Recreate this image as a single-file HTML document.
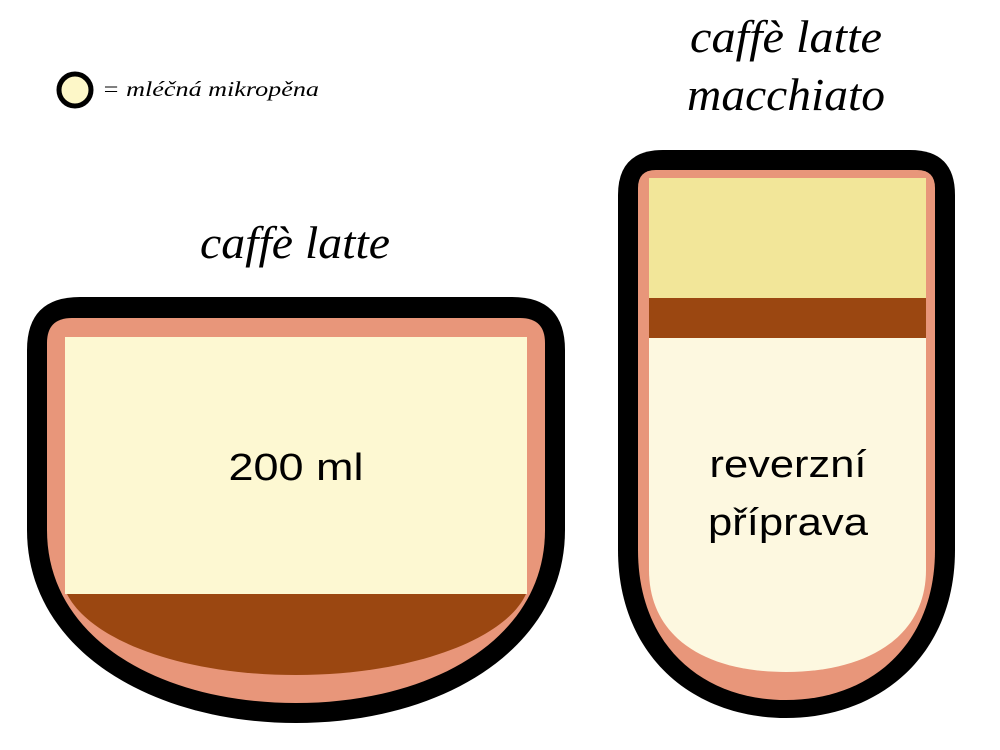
<!DOCTYPE html>
<html><head><meta charset="utf-8"><style>
html,body{margin:0;padding:0;background:#fff;width:1000px;height:750px;overflow:hidden}
svg{display:block}
</style></head><body>
<svg width="1000" height="750" viewBox="0 0 1000 750" xmlns="http://www.w3.org/2000/svg">
<!-- legend -->
<circle cx="75" cy="90" r="16" fill="#fdf7c8" stroke="#000" stroke-width="5"/>
<text x="102" y="96" font-family="Liberation Serif, serif" font-style="italic" font-size="21" textLength="217" lengthAdjust="spacingAndGlyphs">= mléčná mikropěna</text>
<!-- titles -->
<g font-family="Liberation Serif, serif" font-style="italic" font-size="46" text-anchor="middle" fill="#000">
<text x="295" y="258" textLength="190" lengthAdjust="spacingAndGlyphs">caffè latte</text>
<text x="786" y="52" textLength="192" lengthAdjust="spacingAndGlyphs">caffè latte</text>
<text x="786" y="110" textLength="198" lengthAdjust="spacingAndGlyphs">macchiato</text>
</g>
<!-- left cup -->
<path d="M27,350 Q27,297 80,297 L512,297 Q565,297 565,350 L565,530 C565,650 440,723 296,723 C152,723 27,650 27,530 Z" fill="#000"/>
<path d="M47,343 Q47,318 72,318 L520,318 Q545,318 545,343 L545,530 C545,640 430,703 296,703 C162,703 47,640 47,530 Z" fill="#e8967a"/>
<rect x="65" y="337" width="462" height="257" fill="#fdf8d2"/>
<path d="M67,594 L526,594 C505,640 410,675 296,675 C182,675 90,640 67,594 Z" fill="#9b4711"/>
<text x="296" y="480" font-family="Liberation Sans, sans-serif" font-size="38" text-anchor="middle" textLength="135" lengthAdjust="spacingAndGlyphs">200 ml</text>
<!-- right cup -->
<path d="M618,195 Q618,150 663,150 L910,150 Q955,150 955,195 L955,550 C955,655 880,718 786,718 C692,718 618,655 618,550 Z" fill="#000"/>
<path d="M638,188 Q638,170 656,170 L917,170 Q935,170 935,188 L935,550 C935,645 870,700 786,700 C702,700 638,645 638,550 Z" fill="#e8967a"/>
<rect x="649" y="178" width="277" height="121" fill="#f2e699"/>
<rect x="649" y="298" width="277" height="40" fill="#9b4711"/>
<path d="M649,338 L926,338 L926,570 C926,635 870,672 786,672 C702,672 649,635 649,570 Z" fill="#fdf8e0"/>
<g font-family="Liberation Sans, sans-serif" font-size="38" text-anchor="middle">
<text x="788" y="477" textLength="157" lengthAdjust="spacingAndGlyphs">reverzní</text>
<text x="788" y="535" textLength="160" lengthAdjust="spacingAndGlyphs">příprava</text>
</g>
</svg>
</body></html>
